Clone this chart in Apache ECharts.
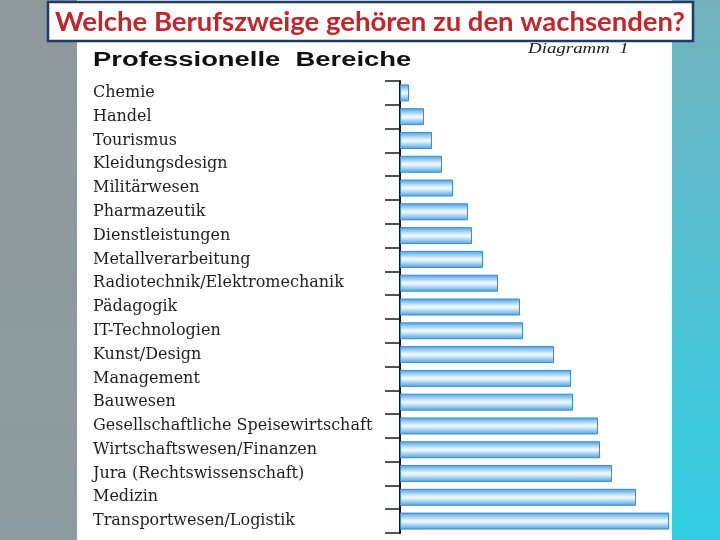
<!DOCTYPE html>
<html>
<head>
<meta charset="utf-8">
<script src="https://cdn.jsdelivr.net/npm/echarts@6/dist/echarts.min.js"></script>
<style>
html,body{margin:0;padding:0;width:720px;height:540px;overflow:hidden;}
#c{width:720px;height:540px;}
</style>
</head>
<body>
<div id="c"></div>
<script>
const titleText = 'Welche Berufszweige gehören zu den wachsenden?';
const subtitleText = 'Professionelle  Bereiche';
const noteText = 'Diagramm  1';
const categories = [
  'Chemie', 'Handel', 'Tourismus', 'Kleidungsdesign', 'Militärwesen',
  'Pharmazeutik', 'Dienstleistungen', 'Metallverarbeitung',
  'Radiotechnik/Elektromechanik', 'Pädagogik', 'IT-Technologien',
  'Kunst/Design', 'Management', 'Bauwesen',
  'Gesellschaftliche Speisewirtschaft', 'Wirtschaftswesen/Finanzen',
  'Jura (Rechtswissenschaft)', 'Medizin', 'Transportwesen/Logistik'
];
const values = [9, 24, 32, 42, 53, 68, 72, 83, 98, 120, 123, 154, 171, 173, 198, 200, 212, 236, 269];

const chart = echarts.init(document.getElementById('c'), null, {renderer: 'canvas'});
chart.setOption({
  animation: false,
  backgroundColor: 'transparent',
  graphic: [
    {type: 'rect', z: -10, shape: {x: 0, y: 0, width: 720, height: 540},
     style: {fill: new echarts.graphic.LinearGradient(0, 0, 0, 1, [
       {offset: 0, color: '#8f999c'}, {offset: 1, color: '#8d9ca0'}])}},
    {type: 'rect', z: -9, shape: {x: 672, y: 0, width: 48, height: 540},
     style: {fill: new echarts.graphic.LinearGradient(0, 0, 0, 1, [
       {offset: 0, color: '#72b1bc'}, {offset: 0.5, color: '#52c0d2'}, {offset: 1, color: '#30cde2'}])}},
    {type: 'rect', z: -8, shape: {x: 77, y: 0, width: 595, height: 540},
     style: {fill: '#ffffff'}},
    {type: 'rect', z: 10, shape: {x: 48, y: 2, width: 645, height: 39},
     style: {fill: '#ffffff', stroke: '#1f3b68', lineWidth: 2.5}},
    {type: 'text', z: 11, x: 370, y: 22,
     style: {text: titleText, fill: '#c0262b', font: 'bold 27.5px Lato', align: 'center', verticalAlign: 'middle'}},
    {type: 'text', z: 11, x: 93, y: 60, scaleX: 1.37,
     style: {text: subtitleText, fill: '#111111', font: 'bold 20px "Liberation Sans"', align: 'left', verticalAlign: 'middle'}},
    {type: 'text', z: 11, x: 528, y: 49, scaleX: 1.35,
     style: {text: noteText, fill: '#222222', font: 'italic 14px "Liberation Serif"', align: 'left', verticalAlign: 'middle'}}
  ],
  grid: {left: 400, right: 20, top: 81, bottom: 7, containLabel: false},
  xAxis: {type: 'value', min: 0, max: 300, show: false},
  yAxis: {
    type: 'category', data: categories, inverse: true,
    axisLine: {show: true, lineStyle: {color: '#1a1a1a', width: 2}},
    axisTick: {show: true, inside: false, length: 15, alignWithLabel: false, lineStyle: {color: '#1a1a1a', width: 1.5}},
    axisLabel: {show: true, align: 'left', margin: 307, color: '#1e1e1e',
                fontFamily: 'DejaVu Serif', fontSize: 16},
    splitLine: {show: false}
  },
  series: [{
    type: 'bar', data: values, barWidth: 17,
    itemStyle: {
      color: new echarts.graphic.LinearGradient(0, 0, 0, 1, [
        {offset: 0, color: '#4a9fe0'}, {offset: 0.45, color: '#e8f6ff'},
        {offset: 0.55, color: '#e8f6ff'}, {offset: 1, color: '#4a9fe0'}]),
      borderColor: '#3a8dd2', borderWidth: 1
    }
  }]
});
</script>
</body>
</html>
